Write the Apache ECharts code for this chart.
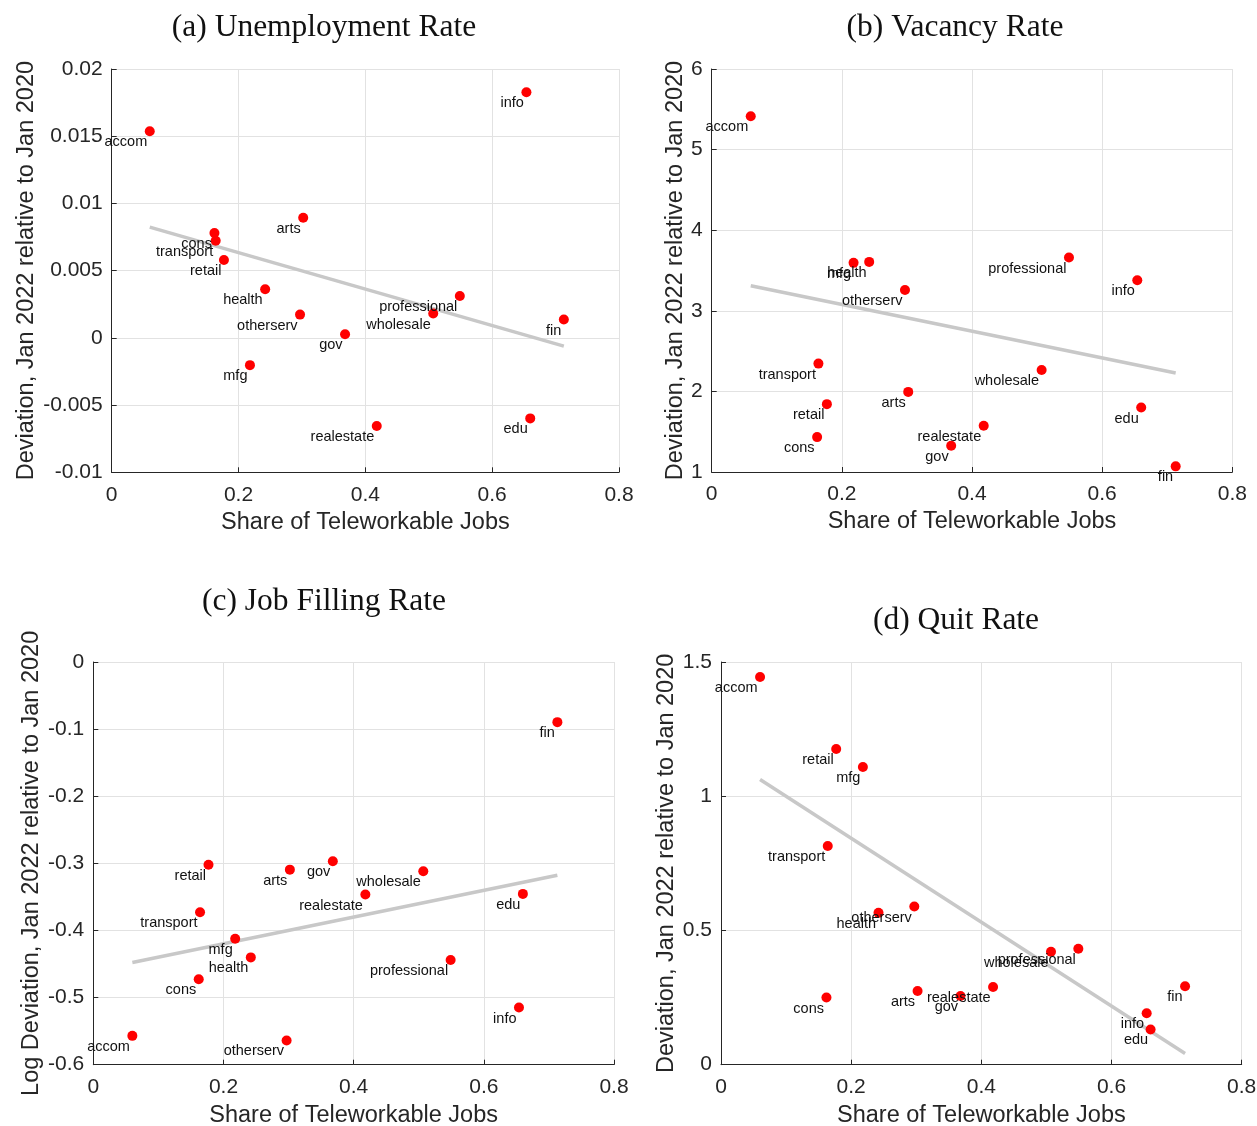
<!DOCTYPE html>
<html>
<head>
<meta charset="utf-8">
<script src="https://cdn.jsdelivr.net/npm/echarts@6/dist/echarts.min.js"></script>
<style>
  html, body { margin: 0; padding: 0; background: #ffffff; }
  #chart { width: 1257px; height: 1126px; }
</style>
</head>
<body>
<div id="chart"></div>
<script>
// Industries and their share of teleworkable jobs
const industries = ['accom', 'cons', 'transport', 'retail', 'mfg', 'health', 'otherserv', 'arts',
                    'gov', 'realestate', 'wholesale', 'professional', 'info', 'edu', 'fin'];
const teleworkShare = [0.060, 0.162, 0.164, 0.177, 0.218, 0.242, 0.297, 0.302,
                       0.368, 0.418, 0.507, 0.549, 0.654, 0.660, 0.713];

// Deviation in Jan 2022 relative to Jan 2020, per industry
const unemploymentDev = [0.01537, 0.0078, 0.00723, 0.00579, -0.00203, 0.00361, 0.00173, 0.00894,
                         0.00027, -0.00656, 0.00181, 0.00312, 0.01827, -0.00599, 0.00136];
const vacancyDev = [5.414, 1.433, 2.345, 1.842, 3.595, 3.607, 3.257, 1.994,
                    1.326, 1.573, 2.266, 3.661, 3.380, 1.800, 1.070];
const jobFillingDev = [-0.557, -0.4728, -0.3728, -0.302, -0.4124, -0.4401, -0.5639, -0.3094,
                       -0.297, -0.3465, -0.3119, -0.4441, -0.5149, -0.3455, -0.0896];
const quitDev = [1.4443, 0.250, 0.8144, 1.1757, 1.1089, 0.5656, 0.5891, 0.2748,
                 0.2562, 0.2896, 0.4208, 0.4319, 0.1918, 0.1312, 0.2921];

// Fitted regression lines (endpoints at the smallest and largest share)
const unemploymentFit = [[0.060, 0.00824], [0.713, -0.00061]];
const vacancyFit = [[0.060, 3.310], [0.713, 2.228]];
const jobFillingFit = [[0.060, -0.4477], [0.713, -0.3178]];
const quitFit = [[0.060, 1.0625], [0.713, 0.0417]];

// Axis ranges: [min, max, step]
const shareAxis = [0, 0.8, 0.2];
const unemploymentAxis = [-0.01, 0.02, 0.005];
const vacancyAxis = [1, 6, 1];
const jobFillingAxis = [-0.6, 0, 0.1];
const quitAxis = [0, 1.5, 0.5];

const xName = 'Share of Teleworkable Jobs';
const devName = 'Deviation, Jan 2022 relative to Jan 2020';
const logDevName = 'Log Deviation, Jan 2022 relative to Jan 2020';

const panels = [
  { title: '(a) Unemployment Rate', titleAt: [324, 28], yName: devName, values: unemploymentDev,
    fit: unemploymentFit, yAxisRange: unemploymentAxis,
    grid: { left: 111.7, top: 69, width: 507.3, height: 403.3 }, yNameGap: 73, xNameGap: 38 },
  { title: '(b) Vacancy Rate', titleAt: [955, 28], yName: devName, values: vacancyDev,
    fit: vacancyFit, yAxisRange: vacancyAxis,
    grid: { left: 711.7, top: 69, width: 520.6, height: 403 }, yNameGap: 22, xNameGap: 38 },
  { title: '(c) Job Filling Rate', titleAt: [324, 602], yName: logDevName, values: jobFillingDev,
    fit: jobFillingFit, yAxisRange: jobFillingAxis,
    grid: { left: 93.3, top: 662, width: 520.7, height: 402.7 }, yNameGap: 49.5, xNameGap: 39 },
  { title: '(d) Quit Rate', titleAt: [956, 621], yName: devName, values: quitDev,
    fit: quitFit, yAxisRange: quitAxis,
    grid: { left: 721, top: 662, width: 520.7, height: 402.7 }, yNameGap: 41, xNameGap: 39 }
];

const SANS = '"Liberation Sans", Arial, Helvetica, sans-serif';
const SERIF = '"Liberation Serif", "Times New Roman", serif';
const INK = '#262626';
const GRID = '#e2e2e2';

function axisCommon(range) {
  return {
    type: 'value',
    min: range[0],
    max: range[1],
    interval: range[2],
    axisLine: { show: true, onZero: false, lineStyle: { color: INK, width: 1 } },
    axisTick: { show: true, inside: true, length: 5, lineStyle: { color: INK, width: 1 } },
    splitLine: { show: true, lineStyle: { color: GRID, width: 1 } },
    nameTextStyle: { fontFamily: SANS, fontSize: 23.5, color: INK },
    nameLocation: 'middle'
  };
}

const option = {
  backgroundColor: '#ffffff',
  animation: false,
  grid: panels.map(p => Object.assign({ containLabel: false, outerBoundsMode: 'none' }, p.grid)),
  xAxis: panels.map((p, i) => Object.assign(axisCommon(shareAxis), {
    gridIndex: i,
    name: xName,
    nameGap: p.xNameGap,
    axisLabel: { fontFamily: SANS, fontSize: 21, color: INK, margin: 12 }
  })),
  yAxis: panels.map((p, i) => Object.assign(axisCommon(p.yAxisRange), {
    gridIndex: i,
    name: p.yName,
    nameRotate: 90,
    nameGap: p.yNameGap,
    axisLabel: { fontFamily: SANS, fontSize: 21, color: INK, margin: 9, padding: [4, 0, 0, 0] }
  })),
  graphic: panels.map(p => ({
    type: 'text',
    x: p.titleAt[0],
    y: p.titleAt[1],
    style: {
      text: p.title,
      font: '31.5px ' + SERIF,
      fill: '#111111',
      textAlign: 'center',
      textVerticalAlign: 'middle'
    }
  })),
  series: []
};

panels.forEach((p, i) => {
  option.series.push({
    type: 'line',
    xAxisIndex: i,
    yAxisIndex: i,
    data: p.fit,
    symbol: 'none',
    lineStyle: { color: '#c8c8c8', width: 3.5 },
    z: 1,
    silent: true
  });
  option.series.push({
    type: 'scatter',
    xAxisIndex: i,
    yAxisIndex: i,
    symbol: 'circle',
    symbolSize: 10,
    itemStyle: { color: '#ff0000', opacity: 1 },
    z: 2,
    data: industries.map((name, k) => ({ name: name, value: [teleworkShare[k], p.values[k]] })),
    label: {
      show: true,
      formatter: '{b}',
      position: [2.5, 16],
      align: 'right',
      verticalAlign: 'middle',
      fontFamily: SANS,
      fontSize: 14.5,
      color: '#111111'
    }
  });
});

const chart = echarts.init(document.getElementById('chart'), null, { renderer: 'canvas' });
chart.setOption(option);
</script>
</body>
</html>
